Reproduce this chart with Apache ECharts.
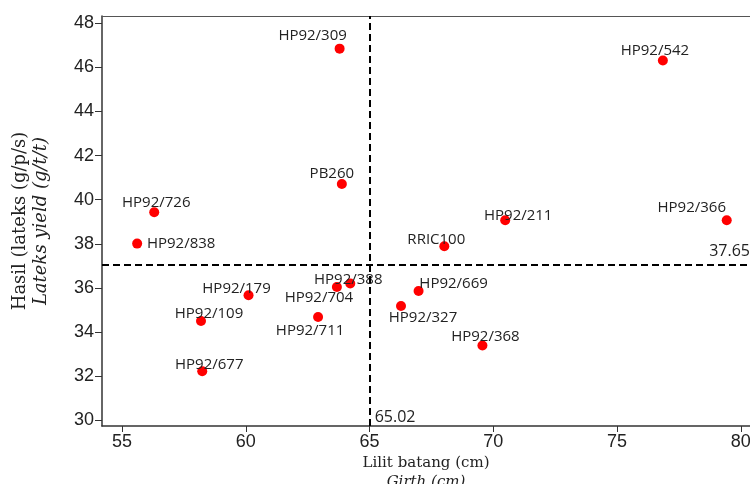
<!DOCTYPE html>
<html>
<head>
<meta charset="utf-8">
<script src="https://cdn.jsdelivr.net/npm/echarts@6/dist/echarts.min.js"></script>
<style>
  html, body { margin: 0; padding: 0; background: #fff; }
  #chart { width: 750px; height: 484px; }
</style>
</head>
<body>
<div id="chart"></div>
<script>
// clones, girth (cm) and latex yield (g/t/t)
var clones = ['HP92/309', 'PB260', 'HP92/726', 'HP92/838', 'HP92/542', 'HP92/211',
  'HP92/366', 'RRIC100', 'HP92/179', 'HP92/109', 'HP92/677', 'HP92/711',
  'HP92/704', 'HP92/388', 'HP92/669', 'HP92/327', 'HP92/368']
var girth = [63.79, 63.88, 56.30, 55.61, 76.85, 70.48,
  79.43, 68.02, 60.11, 58.19, 58.24, 62.92,
  63.68, 64.22, 66.98, 66.27, 69.56]
var latexYield = [46.85, 40.71, 39.43, 38.01, 46.31, 39.07,
  39.07, 37.89, 35.67, 34.50, 32.22, 34.68,
  36.04, 36.20, 35.86, 35.18, 33.39]

var xTicks = [55, 60, 65, 70, 75, 80]
var yTicks = [30, 32, 34, 36, 38, 40, 42, 44, 46, 48]

var girthMean = 65.02
var yieldLineAt = 37.05
var yieldMeanText = '37.65'

// where each name sits relative to its dot (px)
var labelOffsets = [[-27, -13], [-10, -10], [2, -10], [44, 0], [-8, -10], [13, -4],
  [-35, -12], [-8, -7], [-12, -6], [8, -7], [7, -7], [-8, 14],
  [-18, 11], [-2, -4], [35, -7], [22, 12], [3, -9]]

const xMin = 54.19, xMax = 80.37
const yMin = 29.74, yMax = 48.33

const axisColor = '#333'
const textColor = '#222'

let points = clones.map((name, i) => {
  return {
    name: name,
    value: [girth[i], latexYield[i]],
    label: { offset: labelOffsets[i] }
  }
})

const dashed = { color: '#000', width: 2, type: [7, 4] }

let options = {
  animation: false,
  grid: { left: 102, right: 0, top: 16, bottom: 58, outerBoundsMode: 'none', containLabel: false },
  xAxis: [{
    type: 'value',
    min: xMin,
    max: xMax,
    name: '{a|Lilit batang (cm)}\n{b|Girth (cm)}',
    nameLocation: 'middle',
    nameGap: 27,
    nameTextStyle: {
      rich: {
        a: { fontFamily: 'DejaVu Serif', fontSize: 15, color: textColor, lineHeight: 19 },
        b: { fontFamily: 'DejaVu Serif', fontSize: 15, fontStyle: 'italic', color: textColor, lineHeight: 19 }
      }
    },
    axisLine: { show: true, lineStyle: { color: axisColor, width: 1.5 } },
    axisTick: { show: true, length: 6, customValues: xTicks, lineStyle: { color: axisColor } },
    axisLabel: {
      customValues: xTicks,
      margin: 7,
      fontFamily: 'Liberation Sans',
      fontSize: 18,
      color: textColor
    },
    splitLine: { show: false }
  }, {
    type: 'value',
    position: 'top',
    min: xMin,
    max: xMax,
    axisLine: { show: true, lineStyle: { color: '#555', width: 1 } },
    axisTick: { show: false },
    axisLabel: { show: false },
    splitLine: { show: false }
  }],
  yAxis: {
    type: 'value',
    min: yMin,
    max: yMax,
    name: '{a|Hasil (lateks (g/p/s)}\n{b|Lateks yield (g/t/t)}',
    nameLocation: 'middle',
    nameGap: 50,
    nameTextStyle: {
      rich: {
        a: { fontFamily: 'DejaVu Serif', fontSize: 18, color: textColor, lineHeight: 21 },
        b: { fontFamily: 'DejaVu Serif', fontSize: 18, fontStyle: 'italic', color: textColor, lineHeight: 21 }
      }
    },
    axisLine: { show: true, lineStyle: { color: axisColor, width: 1.5 } },
    axisTick: { show: true, length: 7, customValues: yTicks, lineStyle: { color: axisColor } },
    axisLabel: {
      customValues: yTicks,
      margin: 8,
      fontFamily: 'Liberation Sans',
      fontSize: 18,
      color: textColor
    },
    splitLine: { show: false }
  },
  series: [{
    type: 'scatter',
    symbolSize: 10,
    itemStyle: { color: '#ff0000', opacity: 1 },
    label: {
      show: true,
      position: 'inside',
      formatter: '{b}',
      fontFamily: 'Open Sans',
      fontSize: 15,
      color: textColor
    },
    emphasis: { disabled: true },
    data: points,
    markLine: {
      silent: true,
      symbol: 'none',
      lineStyle: dashed,
      data: [
        { xAxis: girthMean, label: { show: false } },
        {
          yAxis: yieldLineAt,
          label: {
            show: true,
            position: 'insideEndTop',
            offset: [5, 0],
            formatter: yieldMeanText,
            fontFamily: 'Open Sans',
            fontSize: 16,
            color: textColor
          }
        }
      ]
    },
    markPoint: {
      silent: true,
      symbol: 'circle',
      symbolSize: 1,
      itemStyle: { color: 'rgba(0,0,0,0)' },
      data: [{
        coord: [girthMean, yMin],
        label: {
          show: true,
          position: 'inside',
          offset: [25, -9],
          formatter: String(girthMean),
          fontFamily: 'Open Sans',
          fontSize: 16,
          color: textColor
        }
      }]
    }
  }]
}

const chart = echarts.init(document.getElementById('chart'), null, { renderer: 'canvas' })
chart.setOption(options)
</script>
</body>
</html>
